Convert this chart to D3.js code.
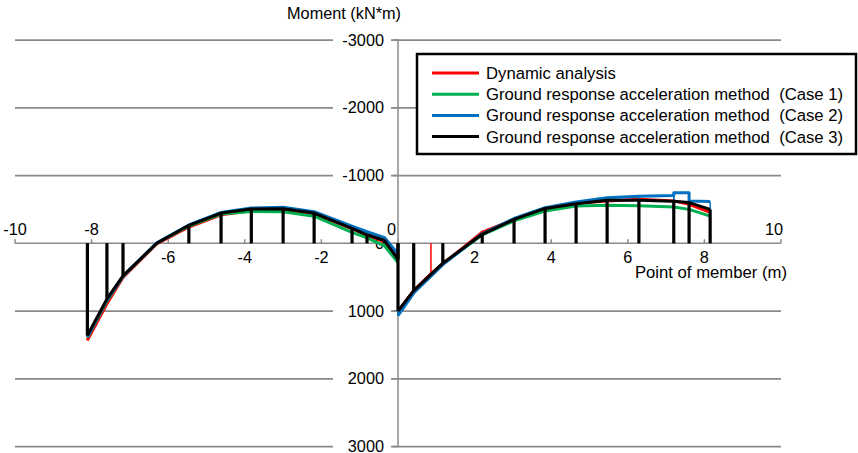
<!DOCTYPE html>
<html>
<head>
<meta charset="utf-8">
<script src="https://cdn.jsdelivr.net/npm/d3@7"></script>
<style>
  body { margin: 0; background: #fff; }
  text { font-family: "Liberation Sans", Arial, sans-serif; fill: #000; }
</style>
</head>
<body>
<div id="chart"></div>
<script>
const xTicks = [-10, -8, -6, -4, -2, 0, 2, 4, 6, 8, 10];
const xLabelsAbove = [-10, -8, 0, 10];
const yTicks = [-3000, -2000, -1000, 0, 1000, 2000, 3000];

// moment along the member, [point (m), moment (kN*m)]
const dynamicLeft = [[-8.11, 1433], [-7.6, 892], [-7.18, 505], [-6.3, 10], [-5.46, -240], [-4.62, -420], [-3.83, -480], [-3.0, -495], [-2.19, -430], [-1.2, -215], [-0.81, -115], [-0.35, -20], [0, 211]];
const dynamicRight = [[0, 1010], [0.41, 700], [0.86, 450], [2.2, -165], [3.03, -350], [3.84, -505], [4.65, -590], [5.46, -625], [6.29, -650], [7.2, -625], [7.6, -575], [8.15, -455]];
const case1Left = [[-8.11, 1390], [-7.6, 850], [-7.18, 490], [-6.3, 0], [-5.46, -255], [-4.62, -430], [-3.83, -470], [-3.0, -465], [-2.19, -400], [-1.2, -160], [-0.81, -80], [-0.35, 40], [0, 285]];
const case1Right = [[0, 1025], [0.41, 720], [1.17, 305], [2.2, -125], [3.03, -330], [3.84, -474], [4.65, -548], [5.46, -560], [6.29, -555], [7.2, -535], [7.6, -500], [8.15, -400]];
const case2Left = [[-8.11, 1386], [-7.6, 840], [-7.18, 485], [-6.3, -5], [-5.46, -270], [-4.62, -455], [-3.83, -520], [-3.0, -533], [-2.19, -465], [-1.2, -254], [-0.81, -170], [-0.35, -82], [0, 157]];
const case2Right = [[0, 1070], [0.41, 735], [1.17, 315], [2.2, -140], [3.03, -365], [3.84, -525], [4.65, -610], [5.46, -670], [6.29, -695], [7.2, -705], [7.2, -745], [7.6, -745], [7.6, -625], [8.15, -615]];
const case3Left = [[-8.11, 1361], [-7.6, 822], [-7.18, 480], [-6.3, 0], [-5.46, -265], [-4.62, -445], [-3.83, -505], [-3.0, -508], [-2.19, -445], [-1.2, -220], [-0.81, -125], [-0.35, -40], [0, 240]];
const case3Right = [[0, 1000], [0.41, 700], [1.17, 294], [2.2, -132], [3.03, -352], [3.84, -514], [4.65, -582], [5.46, -636], [6.29, -636], [7.2, -621], [7.6, -600], [8.15, -499]];

const series = [
  { name: "Dynamic analysis", color: "#ff0000", parts: [dynamicLeft, dynamicRight] },
  { name: "Ground response acceleration method  (Case 1)", color: "#00b050", parts: [case1Left, case1Right] },
  { name: "Ground response acceleration method  (Case 2)", color: "#0070c0", parts: [case2Left, case2Right] },
  { name: "Ground response acceleration method  (Case 3)", color: "#000000", parts: [case3Left, case3Right] }
];

const width = 858, height = 453;
const gridColor = "#8a8a8a";

const svg = d3.select("#chart")
  .append("svg")
  .attr("width", width)
  .attr("height", height);

const x = d3.scaleLinear().domain([-10, 10]).range([15, 781]);
const y = d3.scaleLinear().domain([-3000, 3000]).range([40, 446.5]);

// gridlines
svg.append("g")
  .selectAll("line")
  .data(yTicks.filter(d => d !== 0))
  .join("line")
  .attr("x1", x(-10)).attr("x2", x(10))
  .attr("y1", d => y(d)).attr("y2", d => y(d))
  .attr("stroke", gridColor)
  .attr("stroke-width", 1.75);

// y axis
const yAxis = svg.append("g");
yAxis.append("line")
  .attr("x1", x(0)).attr("x2", x(0))
  .attr("y1", y(-3000)).attr("y2", y(3000))
  .attr("stroke", gridColor).attr("stroke-width", 1.5);
yAxis.selectAll(".tick")
  .data(yTicks)
  .join("line")
  .attr("x1", x(0) - 5).attr("x2", x(0))
  .attr("y1", d => y(d)).attr("y2", d => y(d))
  .attr("stroke", gridColor).attr("stroke-width", 1.5);
yAxis.selectAll("rect")
  .data(yTicks.filter(d => d !== 0))
  .join("rect")
  .attr("x", x(0) - 65).attr("width", 58)
  .attr("y", d => y(d) - 9).attr("height", 18)
  .attr("fill", "#fff");
yAxis.selectAll("text")
  .data(yTicks)
  .join("text")
  .attr("x", x(0) - 14)
  .attr("y", d => y(d) + 5.5)
  .attr("text-anchor", "end")
  .attr("font-size", 16.3)
  .text(d => d);

// x axis
const xAxis = svg.append("g");
xAxis.append("line")
  .attr("x1", x(-10)).attr("x2", x(10))
  .attr("y1", y(0)).attr("y2", y(0))
  .attr("stroke", gridColor).attr("stroke-width", 1.5);
xAxis.selectAll(".tick")
  .data(xTicks)
  .join("line")
  .attr("x1", d => x(d)).attr("x2", d => x(d))
  .attr("y1", y(0) - 4).attr("y2", y(0))
  .attr("stroke", gridColor).attr("stroke-width", 1.5);
xAxis.selectAll("text")
  .data(xTicks)
  .join("text")
  .attr("x", d => d === 0 ? x(d) - 2 : d === 10 ? x(d) + 2 : x(d))
  .attr("y", d => xLabelsAbove.includes(d) ? y(0) - 8 : y(0) + 20)
  .attr("text-anchor", d => d === 0 || d === 10 ? "end" : "middle")
  .attr("font-size", 16.3)
  .text(d => d);

// axis titles
svg.append("text")
  .attr("x", 401).attr("y", 19)
  .attr("text-anchor", "end")
  .attr("font-size", 16.3)
  .text("Moment (kN*m)");
svg.append("text")
  .attr("x", 787).attr("y", 278)
  .attr("text-anchor", "end")
  .attr("font-size", 16.7)
  .text("Point of member (m)");

// moment diagrams
const line = d3.line().x(d => x(d[0])).y(d => y(d[1]));
const plot = svg.append("g");

series.forEach((s, i) => {
  const g = plot.append("g");
  const isTop = i === series.length - 1;
  s.parts.forEach(part => {
    g.append("g")
      .selectAll("line")
      .data(part)
      .join("line")
      .attr("x1", d => x(d[0])).attr("x2", d => x(d[0]))
      .attr("y1", y(0)).attr("y2", d => y(d[1]))
      .attr("stroke", s.color)
      .attr("stroke-width", isTop ? 3.2 : 1.5);
    g.append("path")
      .datum(part)
      .attr("d", line)
      .attr("fill", "none")
      .attr("stroke", s.color)
      .attr("stroke-width", 3)
      .attr("stroke-linejoin", "round");
  });
});

// legend
const legend = svg.append("g");
legend.append("rect")
  .attr("x", 417).attr("y", 54)
  .attr("width", 439).attr("height", 100)
  .attr("fill", "#fff")
  .attr("stroke", "#000")
  .attr("stroke-width", 2.5);
const items = legend.selectAll(".item")
  .data(series)
  .join("g")
  .attr("transform", (d, i) => `translate(0,${73 + i * 21.2})`);
items.append("line")
  .attr("x1", 432).attr("x2", 479)
  .attr("stroke", d => d.color)
  .attr("stroke-width", 3);
items.append("text")
  .attr("x", 486).attr("y", 6)
  .attr("font-size", 16.7)
  .style("white-space", "pre")
  .text(d => d.name);
</script>
</body>
</html>
